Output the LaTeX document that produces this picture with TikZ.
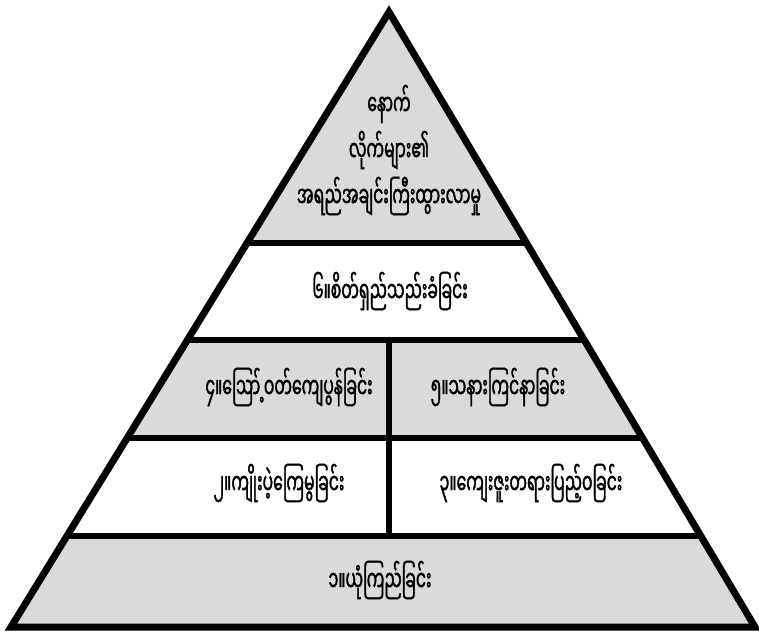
\documentclass[tikz,border=0pt]{standalone}
\usepackage{fontspec}
\newfontfamily\mmfont[Script=Myanmar,FakeStretch=0.54,FakeBold=1.3]{Noto Sans Myanmar UI}
\usepackage{tikz}
\usetikzlibrary{positioning,calc}
\definecolor{bandgray}{RGB}{218,218,218}

\begin{document}
\begin{tikzpicture}[x=1pt,y=-1pt,
  every node/.style={font=\mmfont\fontsize{29}{46}\selectfont},
  lbl/.style={inner sep=0pt,align=center},
  rule/.style={line width=6.5pt,black},
  edge/.style={line width=7pt,black,line join=miter}]
\useasboundingbox (0,0) rectangle (759,635);
%--- Corners ---
\coordinate (apex) at (389,12);
\coordinate (bl)   at (11,627);
\coordinate (br)   at (755,627);
%--- Bands ---
\begin{scope}
  \clip (apex)--(bl)--(br)--cycle;
  \fill[bandgray] (0,0)   rectangle (759,243);
  \fill[white]    (0,243) rectangle (759,340);
  \fill[bandgray] (0,340) rectangle (759,438);
  \fill[white]    (0,438) rectangle (759,536);
  \fill[bandgray] (0,536) rectangle (759,635);
  \draw[rule] (0,243)--(759,243);
  \draw[rule] (0,340)--(759,340);
  \draw[rule] (0,438)--(759,438);
  \draw[rule] (0,536)--(759,536);
  \draw[rule] (389,340)--(389,536);
\end{scope}
\draw[edge] (apex)--(bl)--(br)--cycle;
%--- Labels ---
\node[lbl] (l7) at (389,150) {နောက်\\လိုက်များ၏\\အရည်အချင်းကြီးထွားလာမှု};
\node[lbl] (l6) at (390,291) {၆။စိတ်ရှည်သည်းခံခြင်း};
\node[lbl] (l4) at (289,387) {၄။ဪ့ဝတ်ကျေပွန်ခြင်း};
\node[lbl] (l5) at (498,387) {၅။သနားကြင်နာခြင်း};
\node[lbl] (l2) at (279,483) {၂။ကျိုးပဲ့ကြေမွခြင်း};
\node[lbl] (l3) at (531,483) {၃။ကျေးဇူးတရားပြည့်ဝခြင်း};
\node[lbl] (l1) at (380,580) {၁။ယုံကြည်ခြင်း};
\end{tikzpicture}
\end{document}
